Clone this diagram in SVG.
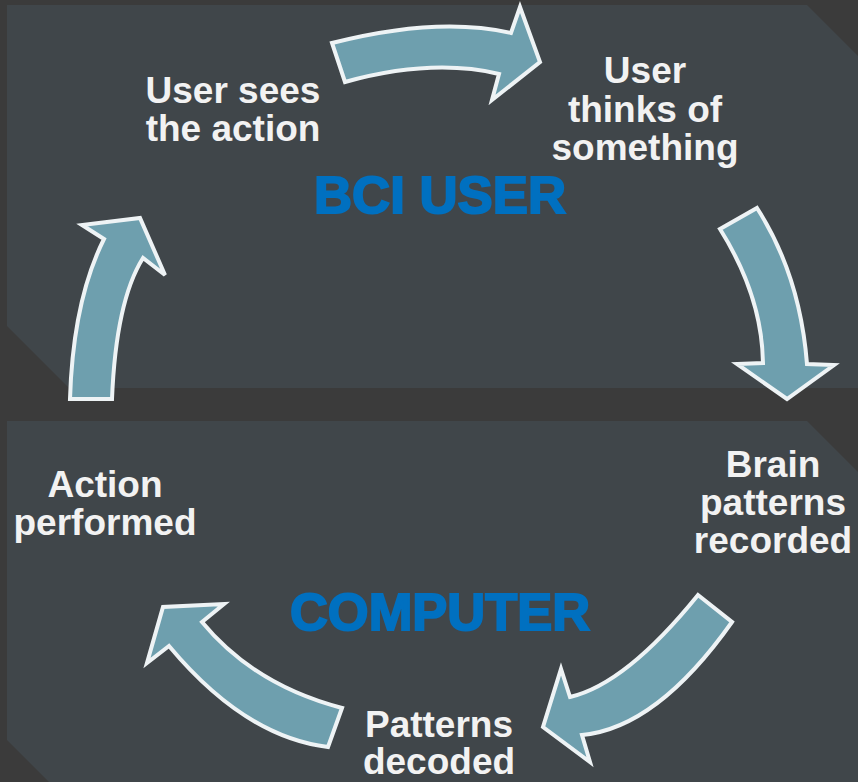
<svg xmlns="http://www.w3.org/2000/svg" width="858" height="782" viewBox="0 0 858 782">
  <style>
    .panel { fill: #40464a; }
    .arrow { fill: #6e9fae; stroke: #eef3f5; stroke-width: 4; stroke-linejoin: miter; }
    .label { font-family: "Liberation Sans", Arial, sans-serif; font-weight: bold; font-size: 37px; fill: #f2f2f2; text-anchor: middle; }
    .title { font-family: "Liberation Sans", Arial, sans-serif; font-weight: bold; font-size: 52px; fill: #0070c0; stroke: #0070c0; stroke-width: 2; text-anchor: middle; }
  </style>

  <!-- backdrop -->
  <rect width="858" height="782" fill="#3b3b3b"/>

  <!-- panels -->
  <g id="panel-user">
    <polygon class="panel" points="7,5 807,5 858,56 858,388 69,388 7,326"/>
  </g>
  <g id="panel-computer">
    <polygon class="panel" points="7,421 807,421 858,472 858,782 49,782 7,740"/>
  </g>

  <!-- cycle arrows -->
  <g id="connectors">
    <path class="arrow" d="M332,43 Q438,16 511,33 L520,7 L540,62 L492,100 L499,74 Q432,58 345,82 Z"/>
    <path class="arrow" d="M720,229 L757,208 Q800,275 807,364 L834,365 L787,399 L737,364 L763,363 Q762,296 720,229 Z"/>
    <path class="arrow" d="M698,595 L732,622 Q657,728 582,735 L590,762 L543,727 L561,669 L570,697 Q626,684 698,595 Z"/>
    <path class="arrow" d="M342,708 L328,747 Q245,737 169,646 L147,663 L163,607 L224,604 L202,622 Q254,685 342,708 Z"/>
    <path class="arrow" d="M112,399 L70,399 Q73,301 104,239 L82,225 L140,218 L165,275 L143,258 Q116,301 112,399 Z"/>
  </g>

  <!-- panel titles -->
  <g id="title-user">
    <text class="title" x="440" y="213" textLength="252" lengthAdjust="spacingAndGlyphs">BCI USER</text>
  </g>
  <g id="title-computer">
    <text class="title" x="440" y="630" textLength="300" lengthAdjust="spacingAndGlyphs">COMPUTER</text>
  </g>

  <!-- step labels -->
  <g id="step-sees">
    <text class="label" x="233" y="103">User sees</text>
    <text class="label" x="233" y="141">the action</text>
  </g>
  <g id="step-thinks">
    <text class="label" x="645" y="83">User</text>
    <text class="label" x="645" y="122">thinks of</text>
    <text class="label" x="645" y="160">something</text>
  </g>
  <g id="step-recorded">
    <text class="label" x="773" y="477">Brain</text>
    <text class="label" x="773" y="515">patterns</text>
    <text class="label" x="773" y="553">recorded</text>
  </g>
  <g id="step-decoded">
    <text class="label" x="439" y="737">Patterns</text>
    <text class="label" x="439" y="774">decoded</text>
  </g>
  <g id="step-performed">
    <text class="label" x="105" y="497">Action</text>
    <text class="label" x="105" y="535">performed</text>
  </g>
</svg>
